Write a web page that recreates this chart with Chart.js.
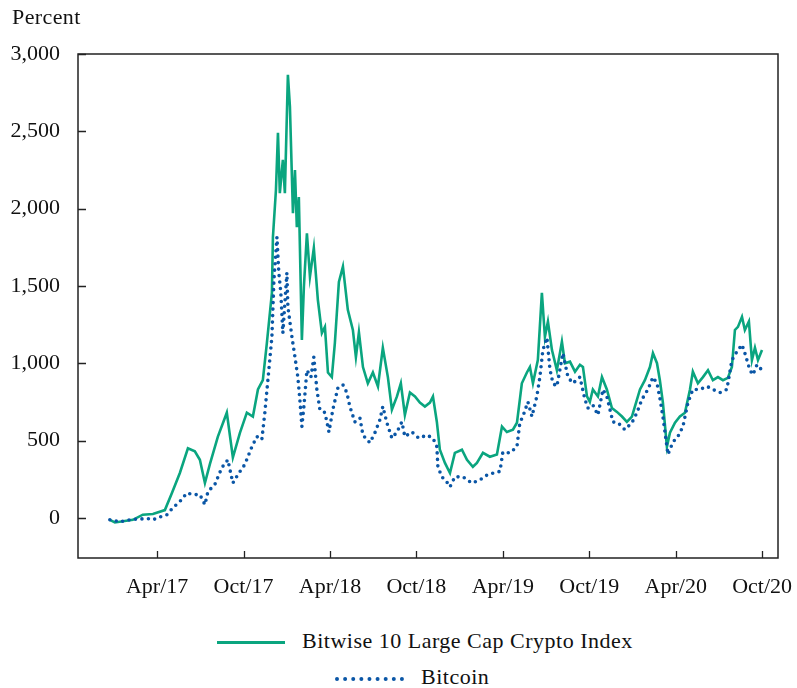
<!DOCTYPE html>
<html>
<head>
<meta charset="utf-8">
<script src="https://cdn.jsdelivr.net/npm/chart.js@4/dist/chart.umd.min.js"></script>
<style>
body { margin: 0; background: #fff; font-family: 'Liberation Serif', serif; color: #111; }
#wrap { position: relative; width: 797px; height: 688px; }
#c { position: absolute; left: 0; top: 0; }
#unit { position: absolute; left: 12px; top: 4px; font-size: 22px; letter-spacing: 0.4px; }
.leg { position: absolute; font-size: 22px; line-height: 24px; white-space: nowrap; letter-spacing: 0.5px; }
.leg .s { display: inline-block; vertical-align: middle; margin-right: 17px; }
</style>
</head>
<body>
<div id="wrap">
  <canvas id="c" width="797" height="610"></canvas>
  <div id="unit">Percent</div>
  <div class="leg" style="left:217px; top:629px;"><span class="s" style="width:68px; border-top:3px solid #0aa57f;"></span>Bitwise 10 Large Cap Crypto Index</div>
  <div class="leg" style="left:335px; top:665px;"><span class="s" style="width:69px; border-top:4px dotted #0a56a6;"></span>Bitcoin</div>
</div>
<script>
// x values are months since Jan 2017 (Apr/17 = 3)
var tickMonths = [3, 9, 15, 21, 27, 33, 39, 45];
var tickLabels = ['Apr/17', 'Oct/17', 'Apr/18', 'Oct/18', 'Apr/19', 'Oct/19', 'Apr/20', 'Oct/20'];
var yTicks = [0, 500, 1000, 1500, 2000, 2500, 3000];

var indexMonths = [-0.28, 0.07, 1.32, 2.01, 2.71, 3.54, 4.03, 4.58, 5.14, 5.62, 5.97, 6.32, 6.66, 7.22, 7.84, 8.26, 8.75, 9.23, 9.65, 10.0,
  10.34, 10.62, 10.97, 11.04, 11.25, 11.39, 11.52, 11.73, 11.87, 12.08, 12.22, 12.43, 12.57, 12.70, 12.84, 13.05, 13.19, 13.40, 13.61, 13.88,
  14.16, 14.44, 14.65, 14.86, 15.13, 15.34, 15.62, 15.90, 16.24, 16.59, 16.80, 17.01, 17.29, 17.63, 17.98, 18.33, 18.67, 19.02, 19.30, 19.65,
  19.92, 20.20, 20.55, 20.90, 21.24, 21.59, 21.94, 22.15, 22.42, 22.63, 22.98, 23.33, 23.67, 24.16, 24.51, 24.92, 25.20, 25.62, 26.10, 26.59,
  26.94, 27.28, 27.70, 27.98, 28.32, 28.67, 28.88, 29.09, 29.43, 29.71, 29.92, 30.13, 30.41, 30.75, 30.96, 31.10, 31.31, 31.66, 32.01, 32.35,
  32.56, 32.84, 33.04, 33.25, 33.60, 33.88, 34.22, 34.57, 34.92, 35.27, 35.61, 35.96, 36.17, 36.52, 36.86, 37.21, 37.42, 37.70, 37.90, 38.11,
  38.39, 38.60, 38.95, 39.29, 39.64, 39.99, 40.19, 40.54, 40.89, 41.24, 41.58, 41.93, 42.28, 42.62, 42.90, 43.11, 43.32, 43.60, 43.80, 44.08,
  44.29, 44.50, 44.71, 44.99];
var indexValues = [-13, -30, -13, 20, 25, 50, 160, 290, 450, 430, 375, 225, 345, 525, 680, 390, 550, 680, 655, 830,
  890, 1130, 1455, 1815, 2120, 2490, 2100, 2315, 2100, 2865, 2660, 1970, 2250, 1880, 2075, 1150, 1495, 1840, 1560, 1745,
  1410, 1195, 1235, 940, 910, 1130, 1525, 1625, 1345, 1215, 1040, 1200, 975, 870, 940, 850, 1100, 910, 700, 785,
  870, 665, 810, 785, 745, 720, 745, 785, 620, 440, 355, 290, 420, 440, 375, 330, 355, 420, 395, 410,
  590, 555, 570, 615, 870, 940, 975, 870, 1020, 1455, 1170, 1270, 1085, 955, 1065, 1140, 1000, 1010, 945, 990,
  975, 785, 750, 830, 785, 910, 830, 710, 685, 655, 620, 655, 720, 830, 890, 975, 1065, 1000, 890, 745,
  460, 550, 615, 655, 680, 830, 945, 870, 910, 955, 890, 910, 890, 905, 975, 1215, 1235, 1300, 1215, 1270,
  1020, 1100, 1020, 1085];

var btcMonths = [-0.28, 0.42, 1.32, 2.36, 2.71, 3.19, 3.68, 4.10, 4.58, 5.07, 5.48, 5.97, 6.32, 6.53, 7.01, 7.50, 7.91, 8.26, 8.61, 9.09,
  9.58, 9.93, 10.27, 10.48, 10.69, 10.97, 11.11, 11.32, 11.45, 11.59, 11.73, 12.01, 12.08, 12.36, 12.57, 12.77, 12.91, 13.05, 13.19, 13.40,
  13.68, 13.88, 14.09, 14.30, 14.65, 14.93, 15.20, 15.55, 15.90, 16.17, 16.38, 16.73, 17.08, 17.29, 17.77, 18.12, 18.47, 18.67, 18.95, 19.30,
  19.65, 19.99, 20.20, 20.69, 21.17, 21.73, 22.15, 22.42, 22.49, 22.77, 23.12, 23.33, 23.67, 24.23, 24.85, 25.41, 25.96, 26.80, 27.00, 27.49,
  27.98, 28.18, 28.39, 28.74, 29.02, 29.36, 29.57, 29.78, 30.06, 30.27, 30.48, 30.75, 31.17, 31.52, 31.86, 32.35, 32.70, 32.91, 33.25, 33.60,
  33.95, 34.22, 34.64, 34.99, 35.47, 35.96, 36.31, 36.65, 37.07, 37.42, 37.70, 37.90, 38.11, 38.46, 38.81, 39.15, 39.50, 39.85, 40.19, 40.68,
  41.17, 41.58, 42.07, 42.55, 42.90, 43.25, 43.60, 43.80, 44.15, 44.36, 44.64, 44.99];
var btcValues = [-13, -25, -10, -5, -13, 5, 20, 65, 105, 160, 150, 150, 85, 170, 215, 325, 375, 225, 280, 345,
  460, 525, 505, 680, 890, 1170, 1540, 1815, 1585, 1455, 1195, 1585, 1365, 1170, 1040, 910, 765, 590, 720, 955,
  910, 1040, 830, 700, 680, 555, 700, 840, 860, 810, 720, 620, 645, 535, 485, 550, 635, 720, 615, 515,
  555, 620, 525, 555, 515, 535, 515, 460, 330, 265, 230, 200, 265, 265, 225, 245, 280, 300, 425, 420,
  460, 615, 655, 750, 655, 785, 910, 1085, 1165, 960, 870, 850, 1065, 910, 870, 910, 765, 710, 730, 665,
  830, 785, 620, 615, 570, 615, 680, 765, 830, 910, 870, 775, 655, 410, 490, 525, 590, 745, 830, 830,
  850, 830, 810, 830, 1020, 1075, 1120, 1065, 955, 925, 990, 955];

function toPoints(xs, ys) {
  return xs.map(function (m, i) { return { x: m, y: ys[i] }; });
}

// box around the plot and short inward ticks
var framePlugin = {
  id: 'frame',
  afterDraw: function (chart) {
    var ctx = chart.ctx, a = chart.chartArea;
    var xs = chart.scales.x, ys = chart.scales.y;
    ctx.save();
    ctx.strokeStyle = '#222';
    ctx.lineWidth = 1.5;
    ctx.strokeRect(a.left, a.top, a.right - a.left, a.bottom - a.top);
    ctx.lineWidth = 1.3;
    ctx.beginPath();
    yTicks.forEach(function (v) {
      var py = Math.round(ys.getPixelForValue(v)) + 0.5;
      ctx.moveTo(a.left, py);
      ctx.lineTo(a.left + 8, py);
    });
    tickMonths.forEach(function (m) {
      var px = Math.round(xs.getPixelForValue(m)) + 0.5;
      ctx.moveTo(px, a.bottom);
      ctx.lineTo(px, a.bottom - 7);
    });
    ctx.stroke();
    ctx.restore();
  }
};

var font = { family: "'Liberation Serif', serif", size: 22 };

new Chart(document.getElementById('c').getContext('2d'), {
  type: 'line',
  data: {
    datasets: [{
      label: 'Bitwise 10 Large Cap Crypto Index',
      data: toPoints(indexMonths, indexValues),
      borderColor: '#0aa57f',
      borderWidth: 2.6,
      pointRadius: 0,
      tension: 0,
      order: 1
    }, {
      label: 'Bitcoin',
      data: toPoints(btcMonths, btcValues),
      borderColor: '#0a56a6',
      borderWidth: 3.6,
      borderDash: [0, 6.5],
      borderCapStyle: 'round',
      pointRadius: 0,
      tension: 0,
      order: 0
    }]
  },
  options: {
    responsive: false,
    animation: false,
    layout: { padding: { top: 54, right: 19, left: 0, bottom: 0 } },
    plugins: {
      legend: { display: false },
      tooltip: { enabled: false }
    },
    scales: {
      x: {
        type: 'linear',
        min: -2.49,
        max: 46.1,
        grid: { display: false, drawTicks: false },
        border: { display: false },
        afterBuildTicks: function (axis) {
          axis.ticks = tickMonths.map(function (v) { return { value: v }; });
        },
        afterFit: function (axis) {
          axis.height = 52;
          axis.paddingLeft = 0;
          axis.paddingRight = 0;
        },
        ticks: {
          autoSkip: false,
          maxRotation: 0,
          padding: 16,
          color: '#111',
          font: font,
          callback: function (v) {
            var i = tickMonths.indexOf(v);
            return i >= 0 ? tickLabels[i] : '';
          }
        }
      },
      y: {
        min: -260,
        max: 3000,
        grid: { display: false, drawTicks: false },
        border: { display: false },
        afterBuildTicks: function (axis) {
          axis.ticks = yTicks.map(function (v) { return { value: v }; });
        },
        afterFit: function (axis) {
          axis.width = 78;
          axis.paddingTop = 0;
          axis.paddingBottom = 0;
        },
        ticks: {
          padding: 18,
          color: '#111',
          font: font,
          callback: function (v) { return v.toLocaleString('en-US'); }
        }
      }
    }
  },
  plugins: [framePlugin]
});
</script>
</body>
</html>
